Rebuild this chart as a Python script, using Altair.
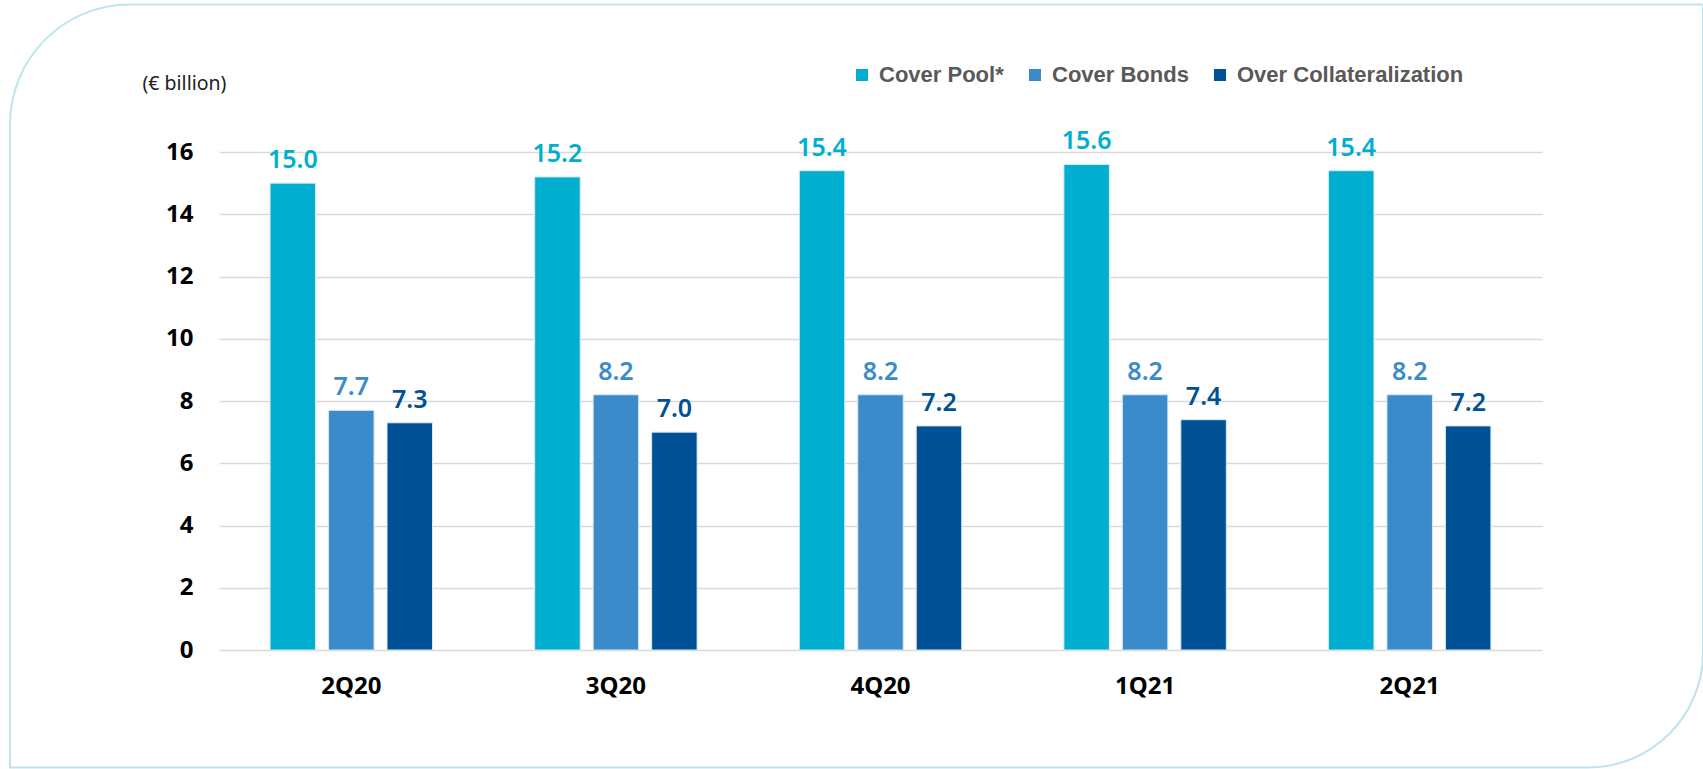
import altair as alt
import pandas as pd

quarters = ["2Q20", "3Q20", "4Q20", "1Q21", "2Q21"]
series_names = ["Cover Pool*", "Cover Bonds", "Over Collateralization"]
cover_pool = [15.0, 15.2, 15.4, 15.6, 15.4]
cover_bonds = [7.7, 8.2, 8.2, 8.2, 8.2]
over_coll = [7.3, 7.0, 7.2, 7.4, 7.2]
y_ticks = [0, 2, 4, 6, 8, 10, 12, 14, 16]
colors = ["#00AECF", "#3B8AC9", "#005196"]

rows = []
for i, q in enumerate(quarters):
    for name, vals in zip(series_names, [cover_pool, cover_bonds, over_coll]):
        rows.append({"quarter": q, "series": name, "value": vals[i]})
df = pd.DataFrame(rows)

W, H = 1323, 498
PAD_L, PAD_T = 219, 152

color_scale = alt.Scale(domain=series_names, range=colors)
x_enc = alt.X(
    "quarter:N",
    sort=quarters,
    title=None,
    scale=alt.Scale(paddingInner=0.337, paddingOuter=0.1685),
    axis=alt.Axis(
        labelAngle=0, labelFontSize=24, labelFontWeight="bold", labelColor="#000000",
        labelFont="Noto Sans", labelPadding=24, ticks=False, domain=False, grid=False,
    ),
)
xoff = alt.XOffset(
    "series:N", sort=series_names,
    scale=alt.Scale(domain=series_names, paddingInner=0.222, paddingOuter=0.111),
)

base = alt.Chart(df)

bars = base.mark_bar(stroke="#dbe9f3", strokeWidth=1).encode(
    x=x_enc,
    xOffset=xoff,
    y=alt.Y(
        "value:Q",
        scale=alt.Scale(domain=[0, 16], nice=False),
        axis=alt.Axis(
            values=y_ticks, format="d", labelFontSize=24, labelFontWeight="bold",
            labelColor="#000000", labelFont="Noto Sans", labelPadding=26,
            ticks=False, domain=False, gridColor="#D9D9D9", gridWidth=1.5,
            title="(€ billion)", titleAngle=0, titleAlign="left", titleBaseline="middle",
            titleX=-77, titleY=-69, titleFontSize=19.5, titleFontWeight="normal",
            titleColor="#222222", titleFont="Noto Sans",
        ),
    ),
    color=alt.Color(
        "series:N", scale=color_scale, sort=series_names,
        legend=alt.Legend(
            title=None, orient="none", direction="horizontal", legendX=632, legendY=-88,
            symbolType="square", symbolSize=144, symbolStrokeWidth=0, labelFontSize=22,
            labelFont="Liberation Sans", labelFontWeight="bold", labelColor="#595959",
            labelOffset=6, columnPadding=20, padding=0, labelLimit=500,
        ),
    ),
)

labels = base.mark_text(
    baseline="alphabetic", dy=-15, fontSize=25, fontWeight=600, font="Noto Sans"
).encode(
    x=alt.X("quarter:N", sort=quarters),
    xOffset=xoff,
    y=alt.Y("value:Q"),
    text=alt.Text("value:Q", format=".1f"),
    color=alt.Color("series:N", scale=color_scale, sort=series_names, legend=None),
)

frame = alt.Chart(pd.DataFrame({"a": [0]})).mark_rect(
    fill="transparent", stroke="#BFE4EE", strokeWidth=2,
    cornerRadiusTopLeft=120, cornerRadiusBottomRight=115,
).encode(
    x=alt.value(10 - PAD_L), x2=alt.value(1703 - PAD_L),
    y=alt.value(4.5 - PAD_T), y2=alt.value(767.5 - PAD_T),
)

chart = alt.layer(frame, bars, labels).properties(
    width=W, height=H,
    autosize=alt.AutoSizeParams(type="none"),
    padding={"left": PAD_L, "top": PAD_T, "right": 1703 - PAD_L - W, "bottom": 769 - PAD_T - H},
    background="white",
).configure_view(stroke=None)

chart.save("out.html", embed_options={"renderer": "svg", "actions": False})
